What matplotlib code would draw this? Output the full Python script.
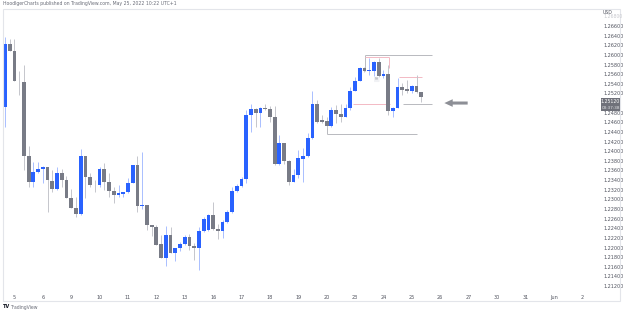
import matplotlib
matplotlib.use('Agg')
import matplotlib.pyplot as plt
from matplotlib.patches import Rectangle

# GBPUSD 4H candles, 4 May 18:00 .. 25 May 10:00 (UTC+1)
opens = [1.2492, 1.2623, 1.2609, 1.2546, 1.2544, 1.2389, 1.2337, 1.2357, 1.2364, 1.2368,
         1.2339, 1.2321, 1.2355, 1.2340, 1.2302, 1.2283, 1.2270, 1.2389, 1.2347, 1.2330,
         1.2330, 1.2364, 1.2337, 1.2317, 1.2309, 1.2311, 1.2316, 1.2335, 1.2371, 1.2287,
         1.2288, 1.2247, 1.2243, 1.2207, 1.2178, 1.2226, 1.2189, 1.2198, 1.2207, 1.2221,
         1.2203, 1.2198, 1.2235, 1.2236, 1.2267, 1.2239, 1.2235, 1.2252, 1.2273, 1.2318,
         1.2328, 1.2342, 1.2475, 1.2487, 1.2480, 1.2489, 1.2488, 1.2470, 1.2373, 1.2418,
         1.2380, 1.2337, 1.2351, 1.2384, 1.2390, 1.2427, 1.2497, 1.2465, 1.2463, 1.2453,
         1.2486, 1.2477, 1.2472, 1.2490, 1.2525, 1.2546, 1.2572, 1.2567, 1.2567, 1.2586,
         1.2556, 1.2560, 1.2484, 1.2490, 1.2533, 1.2529, 1.2526, 1.2536, 1.2522]
highs = [1.2638, 1.2632, 1.2632, 1.2567, 1.2579, 1.2411, 1.2378, 1.2378, 1.2369, 1.2368,
         1.2361, 1.2368, 1.2364, 1.2348, 1.2321, 1.2305, 1.2405, 1.2389, 1.2354, 1.2340,
         1.2368, 1.2375, 1.2354, 1.2326, 1.2330, 1.2316, 1.2344, 1.2371, 1.2389, 1.2399,
         1.2288, 1.2247, 1.2247, 1.2226, 1.2245, 1.2242, 1.2198, 1.2212, 1.2226, 1.2229,
         1.2209, 1.2243, 1.2264, 1.2270, 1.2295, 1.2249, 1.2257, 1.2278, 1.2326, 1.2332,
         1.2346, 1.2486, 1.2498, 1.2489, 1.2491, 1.2499, 1.2494, 1.2494, 1.2434, 1.2418,
         1.2382, 1.2364, 1.2402, 1.2406, 1.2437, 1.2524, 1.2506, 1.2475, 1.2470, 1.2492,
         1.2496, 1.2499, 1.2497, 1.2534, 1.2555, 1.2575, 1.2575, 1.2593, 1.2587, 1.2593,
         1.2569, 1.2579, 1.2492, 1.2553, 1.2541, 1.2548, 1.2537, 1.2558, 1.2523]
lows = [1.2451, 1.2609, 1.2546, 1.2517, 1.2361, 1.2325, 1.2325, 1.2355, 1.2333, 1.2274,
        1.2316, 1.2319, 1.2326, 1.2302, 1.2282, 1.2264, 1.2267, 1.2302, 1.2326, 1.2316,
        1.2326, 1.2319, 1.2305, 1.2292, 1.2305, 1.2305, 1.2313, 1.2333, 1.2274, 1.2281,
        1.2236, 1.2224, 1.2205, 1.2178, 1.2162, 1.2189, 1.2171, 1.2193, 1.2205, 1.2195,
        1.2174, 1.2153, 1.2233, 1.2235, 1.2236, 1.2217, 1.2219, 1.2251, 1.2272, 1.2316,
        1.2326, 1.2333, 1.2440, 1.2451, 1.2451, 1.2486, 1.2461, 1.2371, 1.2371, 1.2373,
        1.2330, 1.2336, 1.2344, 1.2337, 1.2388, 1.2425, 1.2458, 1.2458, 1.2448, 1.2451,
        1.2458, 1.2461, 1.2471, 1.2486, 1.2524, 1.2545, 1.2565, 1.2558, 1.2556, 1.2554,
        1.2551, 1.2475, 1.2472, 1.2489, 1.2517, 1.2520, 1.2520, 1.2520, 1.2503]
closes = [1.2623, 1.2609, 1.2546, 1.2545, 1.2389, 1.2337, 1.2357, 1.2364, 1.2368, 1.2340,
          1.2321, 1.2355, 1.2340, 1.2302, 1.2283, 1.2270, 1.2389, 1.2347, 1.2330, 1.2329,
          1.2364, 1.2337, 1.2317, 1.2309, 1.2313, 1.2316, 1.2335, 1.2371, 1.2287, 1.2288,
          1.2247, 1.2243, 1.2205, 1.2178, 1.2226, 1.2189, 1.2198, 1.2207, 1.2221, 1.2203,
          1.2198, 1.2235, 1.2259, 1.2267, 1.2238, 1.2235, 1.2252, 1.2273, 1.2318, 1.2328,
          1.2342, 1.2475, 1.2487, 1.2480, 1.2489, 1.2488, 1.2472, 1.2373, 1.2418, 1.2380,
          1.2337, 1.2351, 1.2385, 1.2390, 1.2427, 1.2497, 1.2461, 1.2461, 1.2453, 1.2486,
          1.2477, 1.2472, 1.2490, 1.2525, 1.2546, 1.2572, 1.2567, 1.2568, 1.2586, 1.2556,
          1.2560, 1.2484, 1.2490, 1.2533, 1.2527, 1.2526, 1.2536, 1.2522, 1.2512]

day_pos = [2, 8, 14, 20, 26, 32, 38, 44, 50, 56, 62, 68, 74, 80, 86, 92, 98, 104, 110, 116, 122]
day_labels = ['5', '6', '9', '10', '11', '12', '13', '16', '17', '18', '19', '20',
              '23', '24', '25', '26', '27', '30', '31', 'Jun', '2']

price_ticks = [1.212, 1.214, 1.216, 1.218, 1.220, 1.222, 1.224, 1.226, 1.228, 1.230,
               1.232, 1.234, 1.236, 1.238, 1.240, 1.242, 1.244, 1.246, 1.248,
               1.252, 1.254, 1.256, 1.258, 1.260, 1.262, 1.264, 1.266]

last_price = '1.25120'
countdown = '03:37:38'

UP = '#2962ff'
DOWN = '#787b86'
UP_WICK = '#a9bfff'
DOWN_WICK = '#c5c6cc'
TXT = '#50535e'

W, H = 625, 313
fig = plt.figure(figsize=(W / 100, H / 100), dpi=100)
fig.patch.set_facecolor('white')
ax = fig.add_axes([3 / W, (H - 291) / H, 590 / W, (291 - 8.7) / H])

for i in range(len(opens)):
    o, h, l, c = opens[i], highs[i], lows[i], closes[i]
    up = c >= o
    ax.vlines(i, l, h, color=UP_WICK if up else DOWN_WICK, lw=0.7, zorder=2)
    body = max(abs(c - o), 0.00018)
    ax.bar(i, body, bottom=min(o, c), width=0.8,
           color=UP if up else DOWN, lw=0, zorder=3)

ax.set_xlim(-0.423, 124.31)
ax.set_ylim(1.21097, 1.26959)

ax.yaxis.tick_right()
ax.set_yticks(price_ticks)
ax.set_yticklabels(['%.5f' % p for p in price_ticks])
ax.tick_params(axis='y', length=0, pad=7.2, labelsize=3.5, labelcolor=TXT)
ax.set_xticks(day_pos)
ax.set_xticklabels(day_labels)
ax.tick_params(axis='x', length=0, pad=2.6, labelsize=3.5, labelcolor=TXT)
for s in ax.spines.values():
    s.set_visible(False)

# user drawings
grey = '#b8b9bf'
pink = '#f3b9c4'
ax.hlines(1.2600, 76.1, 90.2, color=grey, lw=0.7, zorder=1)
ax.vlines(76.1, 1.2566, 1.2600, color=grey, lw=0.7, zorder=1)
ax.hlines(1.2595, 76.1, 81.2, color=pink, lw=0.7, zorder=1)
ax.vlines(81.2, 1.2572, 1.2595, color=pink, lw=0.7, zorder=1)
ax.hlines(1.2499, 73.6, 81.4, color=pink, lw=0.7, zorder=1)
ax.hlines(1.2499, 84.2, 90.2, color=grey, lw=0.7, zorder=1)
ax.hlines(1.2554, 83.3, 88.2, color=pink, lw=0.7, zorder=1)
ax.vlines(87.1, 1.2538, 1.2556, color=grey, lw=0.7, zorder=1)
ax.hlines(1.2436, 68.1, 87.1, color=grey, lw=0.7, zorder=1)
ax.vlines(68.1, 1.2436, 1.2454, color=grey, lw=0.7, zorder=1)
ax.text(78.6, 1.2549, 'RH', fontsize=2.2, color='#9a9ca3', ha='center', va='center',
        bbox=dict(boxstyle='round,pad=0.2', fc='#f0f1f4', ec='none'), zorder=4)
ax.annotate('', xy=(92.3, 1.2500), xytext=(98.4, 1.2500),
            arrowprops=dict(arrowstyle='simple,head_width=0.55,head_length=0.6,tail_width=0.22',
                            color='#8d8f96', lw=0))

# frame around chart
fig.add_artist(Rectangle((3 / W, (H - 301) / H), 617 / W, (301 - 8.7) / H,
                         transform=fig.transFigure, fill=False, ec='#e3e5ea', lw=0.8))

# last price tag
fig.add_artist(Rectangle((601 / W, (H - 111) / H), 19 / W, 13.5 / H,
                         transform=fig.transFigure, fc='#6f717a', ec='none'))
fig.text(610.5 / W, (H - 101.2) / H, last_price, fontsize=3.3, color='white',
         ha='center', va='center')
fig.text(610.5 / W, (H - 107.6) / H, countdown, fontsize=3.0, color='#e6e7ea',
         ha='center', va='center')

fig.text(603 / W, (H - 12) / H, 'USD', fontsize=3.3, color=TXT, va='center')
fig.text(603 / W, (H - 16.8) / H, '1.26800', fontsize=3.3, color='#c8c9ce', va='center')

fig.text(3 / W, (H - 4) / H, 'HoodlgerCharts published on TradingView.com, May 25, 2022 10:22 UTC+1',
         fontsize=3.3, color='#6a6d78', va='center')
fig.text(3 / W, (H - 307) / H, 'TV', fontsize=3.6, color='#131722', weight='bold', va='center')
fig.text(10 / W, (H - 307) / H, 'TradingView', fontsize=3.3, color='#6a6d78', va='center')

fig.savefig('out.png', dpi=100, facecolor='white')
